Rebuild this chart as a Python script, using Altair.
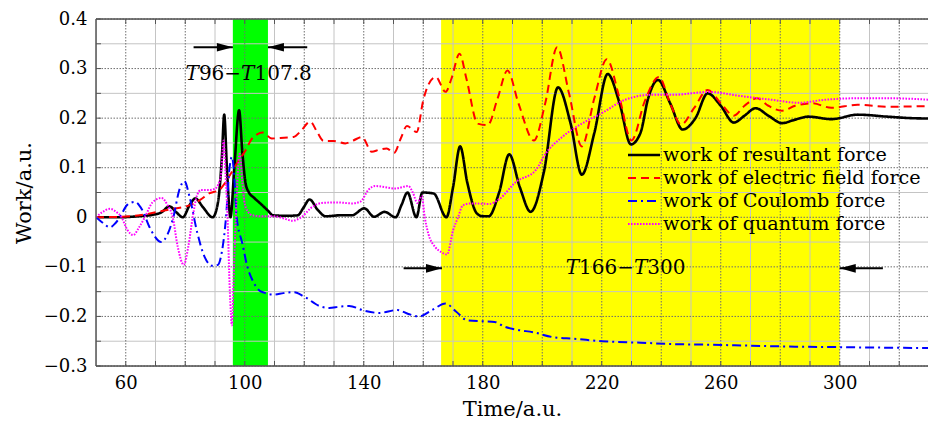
import altair as alt
import pandas as pd

# ---------------- data ----------------
res_x = [50, 58, 64, 69, 72, 74.7, 77, 79.2, 81.5, 83.4, 86, 89.2, 91, 92.3, 93.1, 94, 95.2, 96.5, 98.1, 99.2,
         100.3, 101.4, 103, 105.4, 107.7, 109.5, 114, 117.8, 119.8, 121.8, 124.5, 127.2, 132, 136, 140.2, 143.5,
         147, 150.7, 152.7, 154.7, 157.7, 159.7, 163.5, 167.8, 170, 172.4, 174.8, 178, 180, 182, 185.5, 188.9,
         192.5, 196.1, 200.5, 205.3, 209.5, 213.3, 217.5, 222, 226, 229.8, 233, 235.6, 238.9, 243, 247.2, 251.5,
         255.6, 260, 264.4, 268, 271.7, 276, 280.6, 285, 289.4, 297.2, 306, 316, 324, 333]
res_y = [0, 0, 0.002, 0.005, 0.01, 0.022, 0.01, 0.0, 0.025, 0.038, 0.02, 0.0, 0.03, 0.12, 0.207, 0.1, 0.0, 0.1,
         0.216, 0.13, 0.068, 0.05, 0.04, 0.027, 0.014, 0.004, 0.003, 0.004, 0.02, 0.036, 0.015, 0.002, 0.004,
         0.004, 0.018, 0.001, 0.011, 0.0, 0.025, 0.05, 0.0, 0.05, 0.048, 0.0, 0.06, 0.143, 0.07, 0.008, 0.002,
         0.002, 0.05, 0.127, 0.06, 0.011, 0.09, 0.262, 0.19, 0.086, 0.17, 0.289, 0.23, 0.147, 0.17, 0.24, 0.277,
         0.23, 0.177, 0.2, 0.25, 0.225, 0.191, 0.205, 0.22, 0.205, 0.19, 0.197, 0.203, 0.198, 0.207, 0.203, 0.2,
         0.199]

ele_x = [50, 58, 64.7, 70, 75.8, 81.4, 85, 88, 91.4, 94, 96, 98, 100.3, 102, 104.3, 106, 109.1, 112, 116.4,
         119, 122, 124.5, 126.5, 129.9, 133.8, 136.5, 139.4, 142.7, 145, 147.7, 150.2, 152.5, 154.5, 157.8, 160,
         161.4, 164.2, 167.5, 169.5, 172.2, 174.5, 178.3, 181.7, 185, 188.3, 192, 197.2, 201, 205, 209, 213.3,
         217.5, 221.7, 226, 230, 234.5, 239.2, 243, 246.7, 251, 255.6, 260, 264.4, 268, 272.2, 276, 280.6, 285,
         290.6, 297.2, 306, 316, 333]
ele_y = [0, 0.001, 0.004, 0.01, 0.017, 0.024, 0.035, 0.048, 0.055, 0.075, 0.095, 0.115, 0.135, 0.155, 0.168,
         0.171, 0.159, 0.16, 0.162, 0.175, 0.193, 0.17, 0.154, 0.154, 0.149, 0.155, 0.162, 0.132, 0.136, 0.139,
         0.13, 0.16, 0.184, 0.172, 0.236, 0.263, 0.283, 0.253, 0.28, 0.33, 0.28, 0.189, 0.186, 0.24, 0.296, 0.23,
         0.155, 0.23, 0.343, 0.25, 0.143, 0.24, 0.319, 0.24, 0.155, 0.235, 0.283, 0.23, 0.187, 0.22, 0.257, 0.23,
         0.205, 0.225, 0.24, 0.225, 0.215, 0.225, 0.23, 0.221, 0.227, 0.223, 0.225]

cou_x = [50, 52, 54.7, 56.5, 58, 60.5, 63, 65.5, 68, 72, 74, 76, 78, 79.7, 81.5, 84, 86.5, 89.2, 91, 92.3,
         93.7, 94.8, 95.7, 96.5, 97.3, 99.2, 100.9, 102.6, 104.8, 106.5, 109.8, 113, 116.6, 120, 125.5, 128.4,
         132, 135.1, 140, 145.2, 151.3, 155, 158.6, 163, 167.5, 171, 174.8, 180.4, 184, 187, 191.6, 197, 203.8,
         210.7, 220, 233.1, 245, 255.5, 270, 285, 300.3, 315, 333]
cou_y = [0, -0.01, -0.02, -0.012, 0.0, 0.025, 0.031, 0.015, -0.02, -0.05, -0.035, 0.0, 0.055, 0.073, 0.04,
         -0.03, -0.08, -0.098, -0.096, -0.07, 0.0, 0.095, 0.122, 0.08, 0.0, -0.053, -0.1, -0.127, -0.147,
         -0.152, -0.156, -0.153, -0.151, -0.16, -0.18, -0.183, -0.18, -0.179, -0.188, -0.193, -0.187, -0.195,
         -0.2, -0.187, -0.174, -0.19, -0.208, -0.21, -0.211, -0.22, -0.227, -0.232, -0.242, -0.245, -0.25,
         -0.253, -0.256, -0.257, -0.259, -0.261, -0.262, -0.263, -0.264]

qua_x = [50, 52, 54.7, 57, 58.6, 60.5, 62.5, 64.5, 66.4, 69, 72, 74, 75.8, 77.5, 79.5, 81, 82.5, 84, 85.3, 88,
         89.8, 91, 92, 92.9, 93.6, 94.2, 95, 95.7, 96.4, 97, 98.3, 99.2, 99.8, 101, 102.6, 106, 110, 113, 116,
         119, 122.7, 126, 131, 136.1, 139, 141.5, 143.8, 147, 150.5, 155, 156.5, 158, 159.5, 160.5, 161.7, 164,
         166, 168, 170, 171.7, 173.3, 176, 182.2, 185.6, 191.1, 197.8, 201.1, 206.7, 213.3, 220, 227.8, 236.7,
         243.9, 256.1, 266.1, 277.2, 286.1, 295, 305, 317.2, 330.6]
qua_y = [0, 0.01, 0.017, 0.01, 0.0, -0.025, -0.036, -0.02, 0.0, 0.03, 0.039, 0.025, 0.0, -0.06, -0.096, -0.06,
         0.0, 0.045, 0.055, 0.055, 0.057, 0.065, 0.085, 0.155, 0.08, 0.0, -0.15, -0.218, -0.1, 0.0, 0.128, 0.07,
         0.034, 0.012, 0.004, 0.002, 0.002, -0.002, -0.007, 0.0, 0.021, 0.029, 0.03, 0.028, 0.032, 0.055, 0.063,
         0.061, 0.058, 0.063, 0.05, 0.029, 0.043, 0.0, -0.033, -0.06, -0.07, -0.075, -0.027, 0.0, 0.024, 0.028,
         0.027, 0.037, 0.071, 0.095, 0.128, 0.162, 0.189, 0.21, 0.237, 0.247, 0.247, 0.253, 0.245, 0.237, 0.231,
         0.237, 0.24, 0.24, 0.237]

series_labels = ["work of resultant force", "work of electric field force",
                 "work of Coulomb force", "work of quantum force"]
series_x = [res_x, ele_x, cou_x, qua_x]
series_y = [res_y, ele_y, cou_y, qua_y]

band_start = [96, 166]
band_end = [107.8, 300]

arrow_right_start = [82.8, 153.4]
arrow_right_end = [96, 166.3]
arrow_right_y = [0.343, -0.103]
arrow_left_start = [121, 314.5]
arrow_left_end = [107.8, 300]
arrow_left_y = [0.343, -0.103]

annot_x = [101.3, 228]
annot_y = [0.29, -0.103]
annot_parts = [[("T", True), ("96", False), ("\u2212", False), ("T", True), ("107.8", False)],
               [("T", True), ("166", False), ("\u2212", False), ("T", True), ("300", False)]]

x_labels = [60, 100, 140, 180, 220, 260, 300]
y_labels = [-0.3, -0.2, -0.1, 0, 0.1, 0.2, 0.3, 0.4]
x_minor = list(range(60, 340, 10))
y_minor = [round(-0.3 + 0.05 * i, 2) for i in range(15)]

# ---------------- style ----------------
W, H = 832, 347
FONT = "DejaVu Serif"
colors = ["#000000", "#ff0000", "#0000ff", "#ff00ff"]
dashes = [[1, 0], [8, 5], [9, 4, 2, 4], [1.6, 1.4]]
widths = [2.6, 2, 2, 2]

xs = alt.Scale(domain=[50, 50 + W / 2.975], nice=False, zero=False)
ys = alt.Scale(domain=[-0.3, 0.4], nice=False, zero=False)

xaxis = alt.Axis(title="Time/a.u.", values=x_labels, grid=False, ticks=False, domain=False,
                 labelFont=FONT, labelFontSize=18, labelColor="black", labelPadding=8,
                 titleFont=FONT, titleFontSize=21, titleFontWeight="normal", titleColor="black",
                 titlePadding=6)
yaxis = alt.Axis(title="Work/a.u.", values=y_labels, grid=False, ticks=False, domain=False,
                 labelExpr="datum.value == 0 ? '0' : format(datum.value, '.1f')",
                 labelFont=FONT, labelFontSize=18, labelColor="black", labelPadding=9,
                 titleFont=FONT, titleFontSize=21, titleFontWeight="normal", titleColor="black",
                 titlePadding=9)


def X(field):
    return alt.X(field, type="quantitative", scale=xs, axis=xaxis)


def Y(field):
    return alt.Y(field, type="quantitative", scale=ys, axis=yaxis)


one = pd.DataFrame({"k": [0]})
layers = []

# bands
bands = pd.DataFrame({"x0": band_start, "x1": band_end, "c": ["#00ff00", "#ffff00"]})
layers.append(alt.Chart(bands).mark_rect().encode(
    x=X("x0"), x2="x1", y=alt.value(0), y2=alt.value(H),
    color=alt.Color("c:N", scale=None)))

# grid
gx = pd.DataFrame({"x": x_minor})
gy = pd.DataFrame({"y": y_minor})
gx_major = gx[gx["x"] % 20 == 0]
gx_minor = gx[gx["x"] % 20 != 0]
gy_major = gy[(gy["y"] * 100).round().astype(int) % 10 == 0]
gy_minor = gy[(gy["y"] * 100).round().astype(int) % 10 != 0]
layers.append(alt.Chart(gx_minor).mark_rule(color="#c4c4c4", strokeWidth=1, clip=True).encode(x=X("x")))
layers.append(alt.Chart(gy_minor).mark_rule(color="#c4c4c4", strokeWidth=1).encode(y=Y("y")))
layers.append(alt.Chart(gx_major).mark_rule(color="#6e6e6e", strokeWidth=1, strokeDash=[1.5, 1.5], clip=True).encode(x=X("x")))
layers.append(alt.Chart(gy_major).mark_rule(color="#6e6e6e", strokeWidth=1, strokeDash=[1.5, 1.5]).encode(y=Y("y")))

# inward ticks
layers.append(alt.Chart(gx).mark_rule(color="#555555", strokeWidth=1, clip=True).encode(x=X("x"), y=alt.value(0), y2=alt.value(5)))
layers.append(alt.Chart(gx).mark_rule(color="#555555", strokeWidth=1, clip=True).encode(x=X("x"), y=alt.value(H - 5), y2=alt.value(H)))
layers.append(alt.Chart(gy).mark_rule(color="#555555", strokeWidth=1).encode(y=Y("y"), x=alt.value(0), x2=alt.value(5)))

# curves
for lab, sx, sy, c, d, w in zip(series_labels, series_x, series_y, colors, dashes, widths):
    df = pd.DataFrame({"x": sx, "y": sy})
    layers.append(alt.Chart(df).mark_line(color=c, strokeDash=d, strokeWidth=w, interpolate="monotone",
                                          clip=True).encode(x=X("x"), y=Y("y"), order="x:Q"))

# arrows
ar = pd.DataFrame({"x0": arrow_right_start, "x1": arrow_right_end, "y": arrow_right_y})
al = pd.DataFrame({"x0": arrow_left_start, "x1": arrow_left_end, "y": arrow_left_y})
for df, path in [(ar, "M0,0L-1,-0.27L-1,0.27Z"), (al, "M0,0L1,-0.27L1,0.27Z")]:
    layers.append(alt.Chart(df).mark_rule(color="black", strokeWidth=2).encode(x=X("x0"), x2="x1", y=Y("y")))
    layers.append(alt.Chart(df).mark_point(shape=path, size=1024, filled=True, color="black", opacity=1,
                                           strokeWidth=0).encode(x=X("x1"), y=Y("y")))

# annotation texts (italic T pieces)
ANN_SIZE = 20
em = {"T": 0.668, "\u2212": 0.838, ".": 0.318}
for cx, cy, parts in zip(annot_x, annot_y, annot_parts):
    widths_px = []
    for txt, it in parts:
        wpx = sum(em.get(ch, 0.636) for ch in txt) * ANN_SIZE
        widths_px.append(wpx)
    total = sum(widths_px)
    off = -total / 2
    for (txt, it), wpx in zip(parts, widths_px):
        df = pd.DataFrame({"x": [cx], "y": [cy], "t": [txt]})
        layers.append(alt.Chart(df).mark_text(align="left", baseline="middle", font=FONT, fontSize=ANN_SIZE,
                                              fontStyle="italic" if it else "normal", color="black",
                                              dx=off).encode(x=X("x"), y=Y("y"), text="t:N"))
        off += wpx

# legend
LX0, LX1, LTX, LY0, LDY = 532, 564, 567, 136, 23
for i, (lab, c, d, w) in enumerate(zip(series_labels, colors, dashes, widths)):
    yy = LY0 + LDY * i
    layers.append(alt.Chart(one).mark_rule(color=c, strokeDash=d, strokeWidth=w).encode(
        x=alt.value(LX0), x2=alt.value(LX1), y=alt.value(yy)))
    layers.append(alt.Chart(pd.DataFrame({"t": [lab]})).mark_text(
        align="left", baseline="middle", font=FONT, fontSize=19.2, color="black").encode(
        x=alt.value(LTX), y=alt.value(yy), text="t:N"))

# frame (left, top, bottom; the right edge lies beyond the picture)
for x0, x1, y0, y1 in [(0, 0, 0, H), (0, W, 0, 0), (0, W, H, H)]:
    layers.append(alt.Chart(one).mark_rule(color="#555555", strokeWidth=1.5).encode(
        x=alt.value(x0), x2=alt.value(x1), y=alt.value(y0), y2=alt.value(y1)))

chart = alt.layer(*layers).properties(
    width=W, height=H,
    autosize=alt.AutoSizeParams(type="none"),
    padding={"left": 88, "top": 11, "right": 0, "bottom": 57},
).configure_view(stroke=None).configure(background="white")

chart.save("out.html", embed_options={"renderer": "svg", "actions": False})
